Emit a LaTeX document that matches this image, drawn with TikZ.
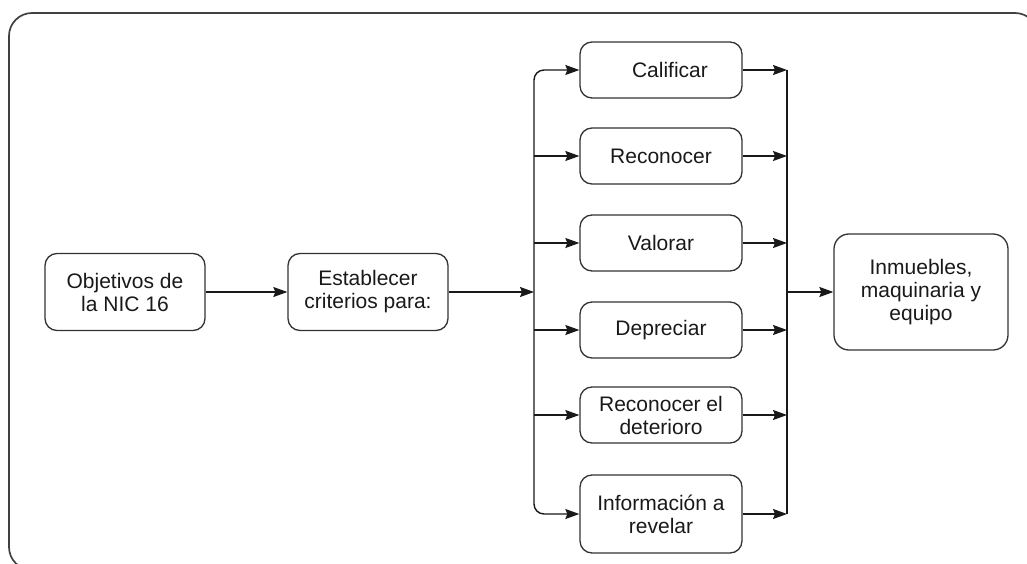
\documentclass[tikz,border=0pt]{standalone}
\usepackage{fontspec}
\setmainfont{Liberation Sans}
\usetikzlibrary{arrows.meta}

\begin{document}
\begin{tikzpicture}[x=1pt, y=-1pt,
    box/.style={draw=black!80, line width=1.3pt, rounded corners=12pt, align=center,
        inner sep=0pt, minimum width=162pt, minimum height=56pt, text=black!90,
        font=\fontsize{21}{23}\selectfont},
    arr/.style={-{Stealth[length=14pt, width=10pt, inset=2pt]}, line width=1.4pt, black!90}]
    \useasboundingbox (0,0) rectangle (1027,564);
    \clip (0,0) rectangle (1027,564);
    % outer frame
    \draw[line width=1.7pt, black!75, rounded corners=23pt] (9,13) rectangle (1038,570);

    \node[box, minimum width=160pt, minimum height=77pt] (obj) at (125,292) {Objetivos de\\la NIC 16};
    \node[box, minimum width=160pt, minimum height=77pt] (crit) at (368,292) {Establecer\\criterios para:};

    \node[box] (calif) at (661,70) {\hspace{18pt}Calificar};
    \node[box] (recon) at (661,156) {Reconocer};
    \node[box] (valor) at (661,243) {Valorar};
    \node[box] (depre) at (661,330) {Depreciar};
    \node[box] (deter) at (661,415) {Reconocer el\\deterioro};
    \node[box, minimum height=78pt] (info) at (661,514) {Información a\\revelar};

    \node[box, minimum width=174pt, minimum height=116pt, rounded corners=15pt] (ppe) at (921,292) {Inmuebles,\\maquinaria y\\equipo};

    \coordinate (lbus) at (534,292);
    \coordinate (rbus) at (787,292);

    \draw[arr] (obj) -- (crit);
    \draw[arr] (crit) -- (lbus);

    % left bus
    \draw[arr, rounded corners=10pt] (lbus) |- (calif);
    \draw[arr, rounded corners=10pt] (lbus) |- (info);
    \foreach \n in {recon, valor, depre, deter}
        \draw[arr] (lbus |- \n) -- (\n);

    % right bus
    \draw[line width=1.4pt, black!90] (rbus |- calif) -- (rbus |- info);
    \foreach \n in {calif, recon, valor, depre, deter, info}
        \draw[arr] (\n) -- (rbus |- \n);
    \draw[arr] (rbus) -- (ppe);
\end{tikzpicture}
\end{document}
